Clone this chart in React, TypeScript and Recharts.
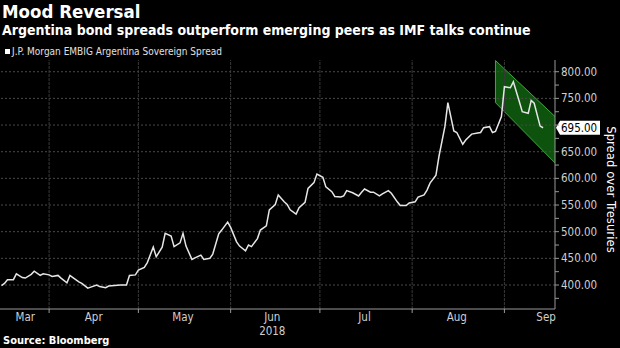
import React from 'react'
import { ComposedChart, Line, Area, XAxis, YAxis, ReferenceLine } from 'recharts'

const YEAR = 2018
const FONT = '"DejaVu Sans Condensed", "DejaVu Sans", sans-serif'

// observation dates (MM-DD) and J.P. Morgan EMBIG Argentina spread
const dates = [
  '03-16', '03-17', '03-18', '03-20', '03-21', '03-23', '03-24', '03-26', '03-27', '03-29', '03-30',
  '04-01', '04-02', '04-04', '04-05', '04-07', '04-08', '04-09', '04-11', '04-12', '04-14',
  '04-15', '04-17', '04-18', '04-20', '04-21', '04-23', '04-25', '04-27', '04-28', '04-30',
  '05-01', '05-03', '05-04', '05-06', '05-07', '05-09', '05-10', '05-12', '05-13', '05-15', '05-16',
  '05-17', '05-19', '05-20', '05-22', '05-23', '05-25', '05-26', '05-28', '05-29', '05-31',
  '06-01', '06-03', '06-04', '06-06', '06-07', '06-08', '06-10', '06-11', '06-13', '06-14', '06-16',
  '06-17', '06-19', '06-20', '06-21', '06-23', '06-24', '06-26', '06-27', '06-29', '06-30',
  '07-02', '07-03', '07-05', '07-06', '07-08', '07-09', '07-10', '07-12', '07-14', '07-15', '07-16',
  '07-18', '07-19', '07-21', '07-22', '07-24', '07-25', '07-27', '07-28', '07-30', '07-31',
  '08-02', '08-03', '08-05', '08-06', '08-07', '08-09', '08-10', '08-12', '08-13', '08-15', '08-16',
  '08-18', '08-19', '08-21', '08-23', '08-24', '08-25', '08-27', '08-28', '08-29', '08-31',
  '09-01', '09-03', '09-04', '09-06', '09-07', '09-09', '09-10', '09-11', '09-13', '09-14',
]
const spread = [
  399, 403, 410, 410, 421, 414, 413, 420, 426, 418, 421,
  419, 416, 418, 413, 404, 418, 414, 406, 403, 394,
  396, 400, 397, 395, 398, 399, 400, 400, 418, 419,
  428, 433, 442, 471, 453, 471, 497, 492, 472, 479, 497,
  473, 448, 451, 456, 448, 450, 458, 496, 503, 518,
  508, 481, 473, 464, 475, 472, 487, 503, 511, 541, 551,
  569, 556, 551, 541, 533, 545, 555, 581, 592, 608,
  602, 584, 575, 566, 565, 567, 577, 573, 567, 574, 580,
  574, 574, 567, 571, 577, 572, 556, 549, 549, 554,
  556, 565, 569, 578, 591, 606, 641, 697, 742, 689, 686,
  664, 672, 683, 685, 686, 695, 697, 686, 688, 716,
  772, 770, 781, 744, 725, 722, 746, 741, 698, 695,
]

// downward channel drawn over the last weeks
const channelDates = ['08-29', '09-18']
const channelLow = [742, 629]
const channelHigh = [821, 716]

const monthStarts = ['04-01', '05-01', '06-01', '07-01', '08-01', '09-01']
const monthLabelDates = ['03-24', '04-16', '05-16', '06-15', '07-16', '08-16', '09-15']
const monthNames = ['Mar', 'Apr', 'May', 'Jun', 'Jul', 'Aug', 'Sep']
const yearLabel = '2018'

const yTicks = [375, 400, 425, 450, 475, 500, 525, 550, 575, 600, 625, 650, 675, 700, 725, 750, 775, 800]
const yGrid = [400, 450, 500, 550, 600, 650, 700, 750, 800]

const toDay = (md: string) =>
  (Date.UTC(YEAR, +md.slice(0, 2) - 1, +md.slice(3)) - Date.UTC(YEAR, 3, 1)) / 86400000

const startDays = monthStarts.map(toDay)
const labelDays = monthLabelDates.map(toDay)
const last = spread[spread.length - 1]

function MonthTick(props: any) {
  const { x, y, payload } = props
  if (startDays.includes(payload.value)) {
    return <line x1={x} y1={y} x2={x} y2={y + 4} stroke="#999" />
  }
  const i = labelDays.indexOf(payload.value)
  return (
    <g>
      <text x={x} y={y + 12} textAnchor="middle" fill="#cfcfcf" fontSize={11.5} fontFamily={FONT}>
        {monthNames[i]}
      </text>
      {monthNames[i] === 'Jun' && (
        <text x={x} y={y + 26} textAnchor="middle" fill="#cfcfcf" fontSize={11.5} fontFamily={FONT}>
          {yearLabel}
        </text>
      )}
    </g>
  )
}

// tick labels hidden behind the last-value tag are skipped
const yLabel = (v: number) => (v % 50 === 0 && Math.abs(v - last) > 20 ? v.toFixed(2) : '')

export default function App() {
  const data = dates.map((d, i) => ({ day: toDay(d), spread: spread[i] }))
  const band = channelDates.map((d, i) => ({ day: toDay(d), band: [channelLow[i], channelHigh[i]] }))

  const axisLabel = (props: any) => {
    const vb = props.viewBox
    const cx = vb.x + 56
    const cy = vb.y + vb.height / 2 + 5
    return (
      <text x={cx} y={cy} transform={`rotate(90, ${cx}, ${cy})`} textAnchor="middle" dominantBaseline="central"
        fill="#fff" fontSize={13} fontFamily={FONT}>
        Spread over Tresuries
      </text>
    )
  }

  const lastTag = (props: any) => {
    const vb = props.viewBox
    const x = vb.x + vb.width
    const y = vb.y
    return (
      <g>
        <polygon points={`${x + 1},${y} ${x + 5},${y - 7} ${x + 45},${y - 7} ${x + 45},${y + 7} ${x + 5},${y + 7}`} fill="#fff" />
        <text x={x + 6} y={y + 4} fill="#000" fontSize={11.5} fontFamily={FONT}>{last.toFixed(2)}</text>
      </g>
    )
  }

  return (
    <div style={{ position: 'absolute', left: 0, top: 0, width: 620, height: 348, background: '#000', overflow: 'hidden', fontFamily: FONT }}>
      <ComposedChart width={620} height={348} data={data} margin={{ top: 60, right: 0, bottom: 0, left: 0 }}>
        {yGrid.map((v) => (
          <ReferenceLine key={'h' + v} y={v} stroke="#4a4a4a" strokeDasharray="2 2" />
        ))}
        {startDays.map((d) => (
          <ReferenceLine key={'v' + d} x={d} stroke="#3a3a3a" strokeDasharray="3 1" />
        ))}
        <XAxis
          dataKey="day"
          type="number"
          domain={[toDay('03-16') - 0.5, toDay('09-18')]}
          ticks={[...startDays, ...labelDays].sort((a, b) => a - b)}
          interval={0}
          tickSize={0}
          tickMargin={0}
          tickLine={false}
          tick={<MonthTick />}
          stroke="#999"
          height={39}
          allowDataOverflow
        />
        <YAxis
          orientation="right"
          domain={[355, 822]}
          ticks={yTicks}
          interval={0}
          tickSize={4}
          tickMargin={2}
          tickFormatter={yLabel}
          tick={{ fill: '#cfcfcf', fontSize: 11.5, fontFamily: FONT, textAnchor: 'start' }}
          stroke="#999"
          width={65}
          allowDataOverflow
          label={axisLabel}
        />
        <Area
          data={band}
          dataKey="band"
          type="linear"
          fill="#0d520d"
          fillOpacity={1}
          stroke="#41a641"
          strokeWidth={1}
          isAnimationActive={false}
        />
        <ReferenceLine
          segment={[{ x: toDay(channelDates[0]), y: channelLow[0] }, { x: toDay(channelDates[0]), y: channelHigh[0] }]}
          stroke="#41a641"
        />
        <Line
          dataKey="spread"
          type="linear"
          stroke="#e6e6e6"
          strokeWidth={1.5}
          dot={false}
          isAnimationActive={false}
        />
        <ReferenceLine y={last} stroke="none" label={lastTag} />
      </ComposedChart>

      <div style={{ position: 'absolute', left: 2, top: 3, color: '#fff', fontSize: 18.5, fontWeight: 'bold', lineHeight: 1, whiteSpace: 'nowrap' }}>
        Mood Reversal
      </div>
      <div style={{ position: 'absolute', left: 2, top: 23, color: '#fff', fontSize: 14, fontWeight: 'bold', lineHeight: 1, whiteSpace: 'nowrap' }}>
        Argentina bond spreads outperform emerging peers as IMF talks continue
      </div>
      <div style={{ position: 'absolute', left: 5, top: 49, width: 5, height: 5, background: '#fff' }} />
      <div style={{ position: 'absolute', left: 12, top: 46.5, color: '#e0e0e0', fontSize: 10, lineHeight: 1, whiteSpace: 'nowrap' }}>
        J.P. Morgan EMBIG Argentina Sovereign Spread
      </div>
      <div style={{ position: 'absolute', left: 3, top: 335, color: '#fff', fontSize: 11, fontWeight: 'bold', lineHeight: 1, whiteSpace: 'nowrap' }}>
        Source: Bloomberg
      </div>
    </div>
  )
}
